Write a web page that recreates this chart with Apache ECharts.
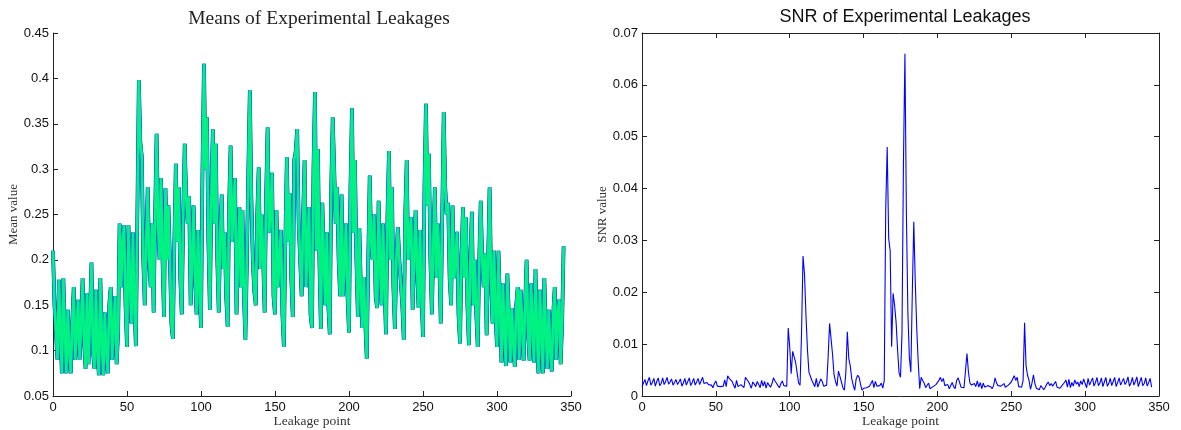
<!DOCTYPE html>
<html>
<head>
<meta charset="utf-8">
<script src="https://cdn.jsdelivr.net/npm/echarts@6/dist/echarts.min.js"></script>
<style>
  html, body { margin: 0; padding: 0; background: #fff; }
  #chart { width: 1181px; height: 430px; }
</style>
</head>
<body>
<div id="chart"></div>
<script>
// mean leakage per point
let meanValues = [
  0.21, 0.15, 0.12, 0.09, 0.178, 0.12, 0.075, 0.18, 0.12, 0.075,
  0.145, 0.1, 0.075, 0.13, 0.17, 0.09, 0.12, 0.156, 0.09, 0.13,
  0.18, 0.11, 0.08, 0.163, 0.085, 0.14, 0.197, 0.1, 0.08, 0.167,
  0.1, 0.073, 0.18, 0.11, 0.073, 0.142, 0.1, 0.075, 0.15, 0.17,
  0.09, 0.13, 0.16, 0.085, 0.12, 0.24, 0.17, 0.22, 0.238, 0.15,
  0.104, 0.238, 0.18, 0.13, 0.23, 0.15, 0.105, 0.25, 0.398, 0.33,
  0.314, 0.2, 0.15, 0.22, 0.28, 0.2, 0.17, 0.24, 0.142, 0.25,
  0.339, 0.24, 0.2, 0.29, 0.2, 0.137, 0.279, 0.2, 0.26, 0.2,
  0.13, 0.113, 0.22, 0.306, 0.22, 0.28, 0.18, 0.14, 0.25, 0.328,
  0.27, 0.24, 0.27, 0.15, 0.2, 0.26, 0.18, 0.14, 0.233, 0.17,
  0.125, 0.3, 0.416, 0.3, 0.357, 0.22, 0.145, 0.27, 0.344, 0.24,
  0.328, 0.2, 0.142, 0.23, 0.272, 0.19, 0.23, 0.16, 0.126, 0.26,
  0.326, 0.22, 0.26, 0.29, 0.14, 0.2, 0.258, 0.17, 0.255, 0.16,
  0.112, 0.2, 0.3, 0.387, 0.27, 0.2, 0.165, 0.15, 0.25, 0.302,
  0.19, 0.25, 0.2, 0.142, 0.27, 0.346, 0.23, 0.25, 0.296, 0.16,
  0.14, 0.255, 0.17, 0.2, 0.233, 0.14, 0.104, 0.22, 0.313, 0.22,
  0.273, 0.18, 0.137, 0.31, 0.32, 0.344, 0.24, 0.2, 0.16, 0.25,
  0.31, 0.17, 0.22, 0.258, 0.14, 0.125, 0.3, 0.385, 0.21, 0.322,
  0.2, 0.124, 0.263, 0.2, 0.15, 0.23, 0.15, 0.118, 0.28, 0.357,
  0.3, 0.24, 0.28, 0.2, 0.16, 0.272, 0.16, 0.2, 0.24, 0.16,
  0.12, 0.28, 0.367, 0.23, 0.31, 0.2, 0.137, 0.235, 0.17, 0.125,
  0.181, 0.13, 0.091, 0.2, 0.293, 0.22, 0.2, 0.25, 0.16, 0.147,
  0.265, 0.2, 0.15, 0.24, 0.17, 0.118, 0.25, 0.32, 0.2, 0.28,
  0.17, 0.124, 0.2, 0.236, 0.2, 0.2, 0.15, 0.112, 0.25, 0.31,
  0.2, 0.23, 0.247, 0.145, 0.2, 0.255, 0.19, 0.147, 0.233, 0.16,
  0.115, 0.28, 0.372, 0.26, 0.317, 0.2, 0.14, 0.22, 0.28, 0.18,
  0.24, 0.2, 0.13, 0.25, 0.363, 0.28, 0.25, 0.263, 0.18, 0.15,
  0.26, 0.18, 0.2, 0.231, 0.14, 0.108, 0.2, 0.258, 0.18, 0.247,
  0.15, 0.106, 0.2, 0.253, 0.15, 0.2, 0.14, 0.104, 0.2, 0.265,
  0.2, 0.17, 0.207, 0.117, 0.2, 0.28, 0.18, 0.13, 0.21, 0.14,
  0.104, 0.21, 0.15, 0.087, 0.174, 0.12, 0.083, 0.185, 0.14, 0.087,
  0.147, 0.11, 0.082, 0.15, 0.17, 0.09, 0.167, 0.13, 0.089, 0.15,
  0.2, 0.12, 0.089, 0.174, 0.13, 0.087, 0.19, 0.12, 0.075, 0.167,
  0.12, 0.075, 0.18, 0.12, 0.08, 0.145, 0.1, 0.077, 0.14, 0.17,
  0.09, 0.14, 0.156, 0.085, 0.13, 0.215
]

// SNR per point
let snrValues = [
  0.0018, 0.0025, 0.0032, 0.002, 0.0029, 0.0036, 0.0021, 0.0026, 0.0034, 0.0019,
  0.0028, 0.0035, 0.002, 0.0024, 0.0035, 0.0022, 0.0028, 0.0036, 0.0023, 0.0027,
  0.0033, 0.0021, 0.0026, 0.0032, 0.0022, 0.0027, 0.0033, 0.0019, 0.0025, 0.0034,
  0.0021, 0.0028, 0.0035, 0.002, 0.0026, 0.0034, 0.0021, 0.0027, 0.0034, 0.0022,
  0.0029, 0.0036, 0.0024, 0.0027, 0.0026, 0.0022, 0.002, 0.0021, 0.0016, 0.0024,
  0.0029, 0.0019, 0.002, 0.0018, 0.0021, 0.0019, 0.0031, 0.0018, 0.0039, 0.0034,
  0.0036, 0.0028, 0.0021, 0.0015, 0.003, 0.0018, 0.0016, 0.0022, 0.0019, 0.0016,
  0.0036, 0.0034, 0.0028, 0.0022, 0.0015, 0.0027, 0.0023, 0.0018, 0.0028, 0.0022,
  0.0016, 0.003, 0.0019, 0.0028, 0.0015, 0.0026, 0.0021, 0.0017, 0.0024, 0.0035,
  0.0029, 0.0025, 0.002, 0.0016, 0.0024, 0.0029, 0.002, 0.0018, 0.0019, 0.0131,
  0.0095, 0.0043, 0.0086, 0.0085, 0.0065, 0.0045, 0.0025, 0.0021, 0.012, 0.027,
  0.0235, 0.0156, 0.009, 0.0046, 0.0045, 0.003, 0.0024, 0.0018, 0.0034, 0.0017,
  0.0025, 0.0033, 0.0028, 0.0019, 0.0021, 0.0021, 0.0075, 0.014, 0.0138, 0.008,
  0.0041, 0.0028, 0.0019, 0.0048, 0.0038, 0.0035, 0.0016, 0.0011, 0.0045, 0.0124,
  0.0072, 0.0058, 0.0033, 0.0021, 0.0011, 0.0033, 0.004, 0.0036, 0.0022, 0.0011,
  0.0015, 0.0013, 0.0016, 0.0017, 0.0019, 0.0017, 0.003, 0.0016, 0.0028, 0.0019,
  0.0022, 0.002, 0.0025, 0.0015, 0.003, 0.036, 0.048, 0.0304, 0.028, 0.0095,
  0.0198, 0.0175, 0.0143, 0.009, 0.0045, 0.0036, 0.012, 0.045, 0.066, 0.035,
  0.016, 0.0075, 0.0046, 0.02, 0.0336, 0.022, 0.013, 0.0065, 0.0014, 0.0036,
  0.003, 0.0025, 0.0016, 0.0015, 0.0025, 0.0014, 0.0016, 0.0018, 0.002, 0.0022,
  0.0025, 0.003, 0.0036, 0.0028, 0.0034, 0.002, 0.0018, 0.0022, 0.0014, 0.0016,
  0.0026, 0.0018, 0.0014, 0.003, 0.0035, 0.0026, 0.0017, 0.0018, 0.0016, 0.0015,
  0.0082, 0.0046, 0.0025, 0.0021, 0.0022, 0.0024, 0.0018, 0.0029, 0.0017, 0.0026,
  0.0014, 0.0025, 0.0017, 0.0014, 0.002, 0.0021, 0.0018, 0.0014, 0.002, 0.0035,
  0.0025, 0.002, 0.0017, 0.0019, 0.0022, 0.0024, 0.0017, 0.0018, 0.0021, 0.002,
  0.0027, 0.003, 0.0039, 0.003, 0.0036, 0.0018, 0.0019, 0.0017, 0.003, 0.0141,
  0.0058, 0.004, 0.003, 0.0013, 0.0025, 0.0041, 0.0024, 0.0015, 0.0013, 0.0012,
  0.002, 0.0016, 0.0012, 0.0017, 0.0023, 0.0027, 0.002, 0.0024, 0.0019, 0.0016,
  0.0028, 0.0017, 0.002, 0.0015, 0.0019, 0.0016, 0.0026, 0.0031, 0.0017, 0.0032,
  0.0016, 0.0026, 0.0019, 0.0031, 0.0023, 0.0027, 0.0018, 0.0029, 0.0022, 0.0033,
  0.0024, 0.0016, 0.0034, 0.0021, 0.0018, 0.0035, 0.0019, 0.0026, 0.0036, 0.002,
  0.0025, 0.0035, 0.0018, 0.0027, 0.0036, 0.0019, 0.0024, 0.0034, 0.002, 0.0028,
  0.0036, 0.0018, 0.0026, 0.0035, 0.0021, 0.0019, 0.0034, 0.0022, 0.0027, 0.0037,
  0.0019, 0.0025, 0.0036, 0.0021, 0.0028, 0.0037, 0.0018, 0.0027, 0.0036, 0.002,
  0.0024, 0.0035, 0.0019, 0.0026, 0.0034, 0.0017
]

let titles = ['Means of Experimental Leakages', 'SNR of Experimental Leakages']
let xName = 'Leakage point'
let yNames = ['Mean value', 'SNR value']

let toPairs = arr => arr.map((v, i) => [i, v])

let sans = 'Liberation Sans, Arial, sans-serif'
let serif = 'Liberation Serif, Times New Roman, serif'

function axisLine() {
  return { show: true, onZero: false, lineStyle: { color: '#222', width: 1 } }
}
function tick() {
  return { show: true, inside: true, length: 5, lineStyle: { color: '#222', width: 1 } }
}
function label(margin) {
  return { show: true, margin: margin, color: '#111', fontSize: 13, fontFamily: sans }
}

function xAxis(grid, labels, margin) {
  return {
    type: 'value', gridIndex: grid, min: 0, max: 350, interval: 50,
    position: labels ? 'bottom' : 'top',
    name: labels ? xName : '', nameLocation: 'middle', nameGap: 18,
    nameMoveOverlap: false,
    nameTextStyle: { fontFamily: serif, fontSize: 13.5, color: '#333' },
    axisLine: axisLine(), axisTick: tick(),
    axisLabel: labels ? label(margin) : { show: false },
    splitLine: { show: false }
  }
}

function yAxis(grid, min, max, step, name, labels, margin) {
  return {
    type: 'value', gridIndex: grid, min: min, max: max, interval: step,
    position: labels ? 'left' : 'right',
    name: labels ? name : '', nameLocation: 'middle', nameGap: 33,
    nameTextStyle: { fontFamily: serif, fontSize: 13, color: '#333' },
    axisLine: axisLine(), axisTick: tick(),
    axisLabel: labels ? label(margin) : { show: false },
    splitLine: { show: false }
  }
}

let chart = echarts.init(document.getElementById('chart'))
chart.setOption({
  animation: false,
  backgroundColor: '#fff',
  title: [
    { text: titles[0], left: 314, top: 4, textAlign: 'center',
      textStyle: { fontFamily: serif, fontSize: 19.5, fontWeight: 'normal', color: '#222' } },
    { text: titles[1], left: 900, top: 3, textAlign: 'center',
      textStyle: { fontFamily: sans, fontSize: 18, fontWeight: 'normal', color: '#111' } }
  ],
  grid: [
    { left: 53, right: 610, top: 33, bottom: 34, outerBoundsMode: 'none', containLabel: false },
    { left: 642, right: 22, top: 33, bottom: 34, outerBoundsMode: 'none', containLabel: false }
  ],
  xAxis: [xAxis(0, true, 5), xAxis(1, true, 5), xAxis(1, false, 0)],
  yAxis: [
    yAxis(0, 0.05, 0.45, 0.05, yNames[0], true, 4),
    yAxis(1, 0, 0.07, 0.01, yNames[1], true, 4),
    yAxis(1, 0, 0.07, 0.01, '', false, 0)
  ],
  series: [
    { type: 'line', xAxisIndex: 0, yAxisIndex: 0, data: toPairs(meanValues),
      showSymbol: false, lineStyle: { color: '#0018e0', width: 3.8 } },
    { type: 'line', xAxisIndex: 0, yAxisIndex: 0, data: toPairs(meanValues),
      showSymbol: false, lineStyle: { color: '#0a86e6', width: 3.2 } },
    { type: 'line', xAxisIndex: 0, yAxisIndex: 0, data: toPairs(meanValues),
      showSymbol: false, lineStyle: { color: '#00f283', width: 2.6 } },
    { type: 'line', xAxisIndex: 1, yAxisIndex: 1, data: toPairs(snrValues),
      showSymbol: false, lineStyle: { color: '#0000ff', width: 1.1 } }
  ]
})
</script>
</body>
</html>
